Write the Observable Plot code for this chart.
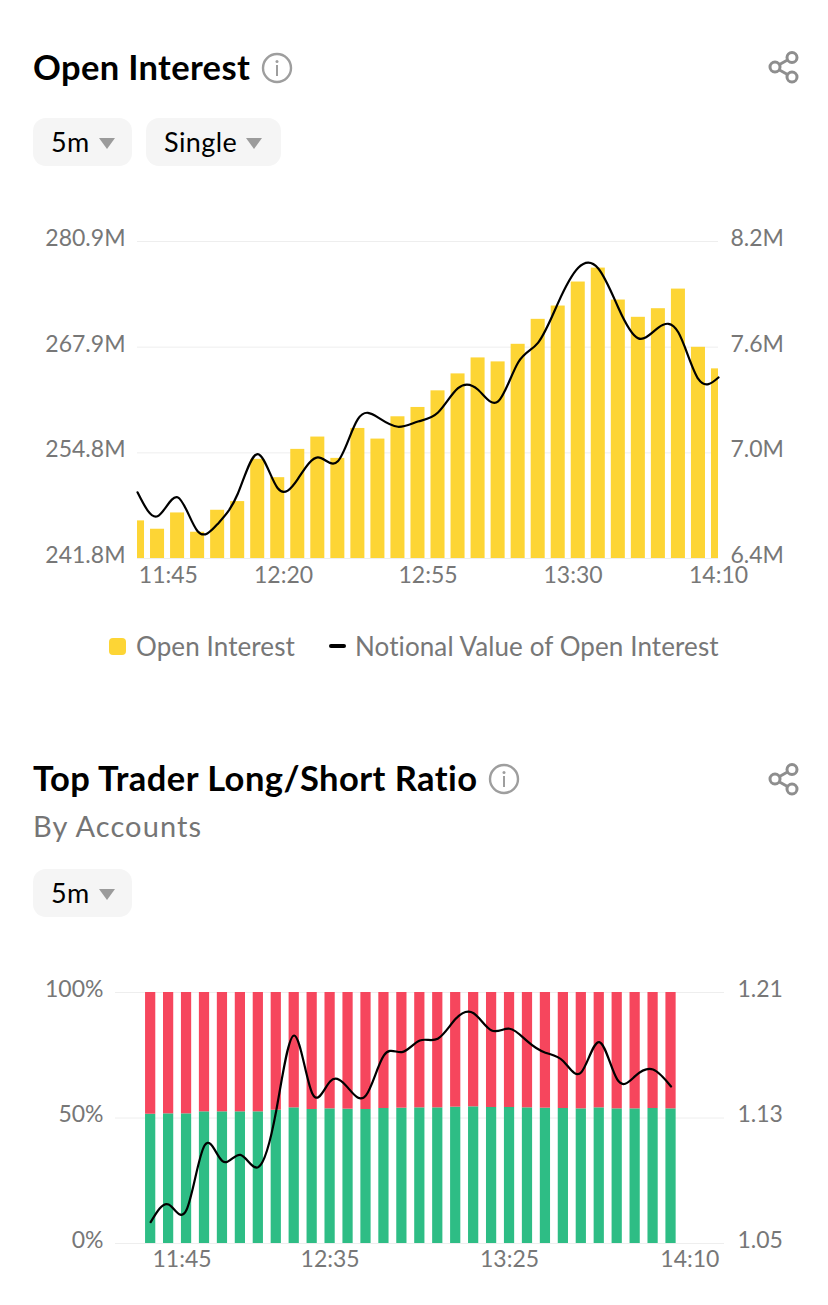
<!DOCTYPE html>
<html>
<head>
<meta charset="utf-8">
<script src="https://cdn.jsdelivr.net/npm/d3@7"></script>
<script src="https://cdn.jsdelivr.net/npm/@observablehq/plot@0.6"></script>
<style>
html,body{margin:0;padding:0;background:#fff;width:828px;height:1305px;overflow:hidden;font-family:Lato,sans-serif;}
.abs{position:absolute;}
.title{color:#000;font-weight:700;font-size:34.5px;line-height:40px;white-space:nowrap;letter-spacing:.35px;}
.sub{color:#757575;font-weight:400;font-size:29px;line-height:34px;white-space:nowrap;letter-spacing:1.1px;}
.pill{background:#f5f5f5;border-radius:13px;height:48px;color:#000;font-size:27px;line-height:48px;box-sizing:border-box;white-space:nowrap;}
.pill span{position:absolute;left:18px;top:0;letter-spacing:.4px;}
.pill i{position:absolute;top:20px;width:0;height:0;border-left:8px solid transparent;border-right:8px solid transparent;border-top:11px solid #9b9b9b;}
.lg{color:#777;font-size:26px;line-height:30px;white-space:nowrap;letter-spacing:.1px;}
</style>
</head>
<body>
<script>
// Open Interest (millions) and its notional value (millions)
const oiTickValues = [241.8, 254.83, 267.87, 280.9];
const oiLeftLabels = ["241.8M", "254.8M", "267.9M", "280.9M"];
const oiRightLabels = ["6.4M", "7.0M", "7.6M", "8.2M"];
const oiNotionalDomain = [6.4, 8.2];
const oiXLabels = ["11:45", "12:20", "12:55", "13:30", "14:10"];
const oiXPositions = [1.54, 7.29, 14.5, 21.74, 29];
const oiBars = [246.44,245.41,247.42,245.04,247.75,248.82,254.03,251.77,255.26,256.78,254.15,257.84,256.53,259.28,260.43,262.48,264.57,266.54,266.05,268.22,271.30,272.94,275.90,277.62,273.68,271.55,272.61,275.03,267.85,265.19];
const oiNotional = [6.776,6.640,6.748,6.555,6.596,6.766,6.993,6.799,6.851,6.974,6.952,7.191,7.201,7.148,7.178,7.229,7.367,7.358,7.292,7.513,7.626,7.853,8.051,8.047,7.824,7.650,7.711,7.683,7.418,7.428];

// Top Trader Long/Short Ratio by accounts
const lsTickValues = [0, 50, 100];
const lsLeftLabels = ["0%", "50%", "100%"];
const lsRightLabels = ["1.05", "1.13", "1.21"];
const lsRatioDomain = [1.05, 1.21];
const lsXLabels = ["11:45", "12:35", "13:25", "14:10"];
const lsXPositions = [1.75, 10, 20, 30.05];
const lsLong = [51.5,51.66,51.66,52.46,52.46,52.46,52.46,53.12,54.05,53.39,53.65,53.52,53.39,53.78,53.92,54.05,54.05,54.32,54.45,54.18,54.18,54.05,53.92,53.78,53.65,54.05,53.65,53.65,53.78,53.65];
const lsRatio = [1.0636,1.0749,1.0715,1.1125,1.1025,1.1065,1.0987,1.1348,1.1826,1.1458,1.1533,1.1492,1.1444,1.1699,1.1720,1.1794,1.1805,1.1932,1.1968,1.1858,1.1869,1.1788,1.1716,1.1662,1.1592,1.1784,1.1546,1.1567,1.1609,1.1501];

const GREY = "#777777", GRID = "#eeeeee", FONT = 23;
const YELLOW = "#FDD535", RED = "#F6465D", GREEN = "#2EBD85";

function lookup(keys, labels){ const m = new Map(keys.map((k,i)=>[k,labels[i]])); return d => m.get(d); }

function axes(yTicks, left, right, xPos, xLab, pad){
  const common = {ticks:yTicks, tickSize:0, label:null, fontSize:FONT, color:GREY, dy:-3};
  return [
    Plot.axisY({...common, anchor:"left", tickFormat:lookup(yTicks,left), tickPadding:pad[0]}),
    Plot.axisY({...common, anchor:"right", tickFormat:lookup(yTicks,right), tickPadding:pad[1]}),
    Plot.axisX({ticks:xPos, tickFormat:lookup(xPos,xLab), tickSize:0, tickPadding:pad[2], label:null, fontSize:FONT, color:GREY})
  ];
}

function mount(el, top){ el.style.position="absolute"; el.style.left="0"; el.style.top = top+"px"; el.style.fontFamily="Lato,sans-serif"; document.body.appendChild(el); }

// ---- chart 1
const oiIdx = oiBars.map((_,i)=>i);
const oiToLeft = d3.scaleLinear().domain(oiNotionalDomain).range([oiTickValues[0], oiTickValues[3]]);
mount(Plot.plot({
  width:828, height:400, marginLeft:137, marginRight:110, marginTop:31, marginBottom:52,
  style:{background:"transparent", overflow:"visible"},
  x:{domain:[0,29], axis:null}, y:{domain:[241.8,280.9], axis:null},
  marks:[
    Plot.ruleY(oiTickValues,{stroke:GRID, strokeWidth:1}),
    Plot.rectY(oiIdx,{x1:i=>i-0.35, x2:i=>i+0.35, y1:241.8, y2:i=>oiBars[i], fill:YELLOW, clip:true}),
    Plot.line(oiIdx,{x:i=>i, y:i=>oiToLeft(oiNotional[i]), stroke:"#000", strokeWidth:2.2, curve:"natural"}),
    ...axes(oiTickValues, oiLeftLabels, oiRightLabels, oiXPositions, oiXLabels, [12,12,8])
  ]
}), 210);

// ---- chart 2
const lsIdx = lsLong.map((_,i)=>i);
const lsToLeft = d3.scaleLinear().domain(lsRatioDomain).range([0,100]);
mount(Plot.plot({
  width:828, height:320, marginLeft:115, marginRight:104, marginTop:22, marginBottom:47,
  style:{background:"transparent", overflow:"visible"},
  x:{domain:[-1.96,31.98], axis:null}, y:{domain:[0,100], axis:null},
  marks:[
    Plot.ruleY(lsTickValues,{stroke:GRID, strokeWidth:1}),
    Plot.rectY(lsIdx,{x1:i=>i-0.285, x2:i=>i+0.285, y1:0, y2:i=>lsLong[i], fill:GREEN}),
    Plot.rectY(lsIdx,{x1:i=>i-0.285, x2:i=>i+0.285, y1:i=>lsLong[i], y2:100, fill:RED}),
    Plot.line(lsIdx,{x:i=>i, y:i=>lsToLeft(lsRatio[i]), stroke:"#000", strokeWidth:2.2, curve:"natural"}),
    ...axes(lsTickValues, lsLeftLabels, lsRightLabels, lsXPositions, lsXLabels, [12,13,7])
  ]
}), 970);

// ---- page furniture
function add(html){ const t=document.createElement("template"); t.innerHTML=html.trim(); document.body.appendChild(t.content.firstChild); }
const info=(cx,cy)=>`<svg class="abs" style="left:${cx-16}px;top:${cy-16}px" width="32" height="32" viewBox="0 0 32 32"><circle cx="16" cy="16" r="14" fill="none" stroke="#9e9e9e" stroke-width="2.4"/><circle cx="16" cy="9.5" r="1.5" fill="#9e9e9e"/><rect x="15" y="13" width="2" height="11" fill="#9e9e9e"/></svg>`;
const share=(cx,cy)=>`<svg class="abs" style="left:${cx-17}px;top:${cy-17}px" width="34" height="34" viewBox="0 0 34 34" fill="none" stroke="#8e8e8e" stroke-width="3"><circle cx="8" cy="17" r="5"/><circle cx="25" cy="7.5" r="5"/><circle cx="25" cy="27" r="5"/><path d="M12.5 14.5 L20.5 10 M12.5 20 L20.5 24.5"/></svg>`;
const pill=(x,y,w,label,ax)=>`<div class="abs pill" style="left:${x}px;top:${y}px;width:${w}px"><span>${label}</span><i style="left:${ax}px"></i></div>`;

add(`<div class="abs title" style="left:33px;top:47px">Open Interest</div>`);
add(info(277,68));
add(share(784,67));
add(pill(33,118,99,"5m",66));
add(pill(146,118,135,"Single",100));
add(`<div class="abs" style="left:109px;top:638px;width:17px;height:17px;border-radius:4px;background:${YELLOW}"></div>`);
add(`<div class="abs lg" style="left:136px;top:631px">Open Interest</div>`);
add(`<div class="abs" style="left:329px;top:644px;width:17px;height:4px;border-radius:2px;background:#000"></div>`);
add(`<div class="abs lg" style="left:355px;top:631px">Notional Value of Open Interest</div>`);

add(`<div class="abs title" style="left:33px;top:758px;letter-spacing:.45px">Top Trader Long/Short Ratio</div>`);
add(info(504,779));
add(share(784,779));
add(`<div class="abs sub" style="left:33px;top:809px">By Accounts</div>`);
add(pill(33,869,99,"5m",66));
</script>
</body>
</html>
